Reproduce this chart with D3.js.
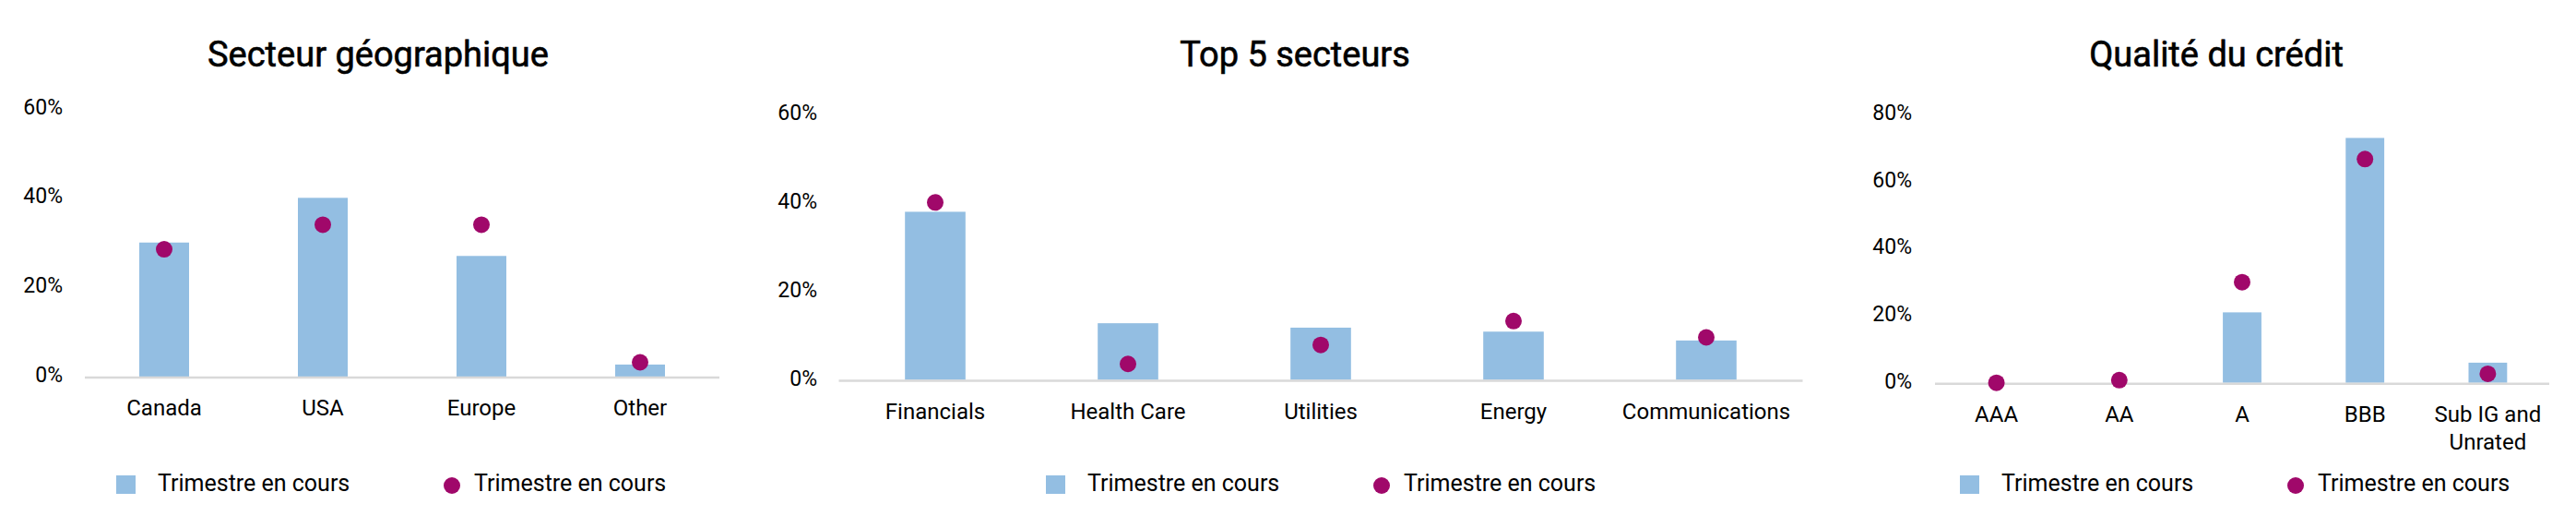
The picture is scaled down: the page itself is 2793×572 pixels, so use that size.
<html>

<head>
  <script src="https://d3js.org/d3.v7.min.js"></script>
  <style>
    body {
      margin: 0;
      background: white;
    }

    text {
      font-family: Roboto, "DejaVu Sans", sans-serif;
      fill: #000;
    }

    .cTitle {
      font-size: 38px;
      font-weight: 400;
      stroke: #000;
      stroke-width: 0.6px;
    }

    .tickLabel {
      font-size: 23px;
    }

    .catLabel {
      font-size: 24px;
    }

    .legendText {
      font-size: 25px;
    }
  </style>
</head>

<body>
  <svg id="vis" width="2793" height="572"></svg>
  <script>
    // chart 1 - geographic sector
    const geoCategories = ["Canada", "USA", "Europe", "Other"];
    const geoBars = [30, 40, 27, 2.7];
    const geoDots = [28.5, 34, 34, 3.2];
    const geoTicks = [0, 20, 40, 60];

    // chart 2 - top 5 sectors
    const sectorCategories = ["Financials", "Health Care", "Utilities", "Energy", "Communications"];
    const sectorBars = [38, 12.8, 11.8, 10.9, 8.9];
    const sectorDots = [40.1, 3.6, 7.9, 13.3, 9.6];
    const sectorTicks = [0, 20, 40, 60];

    // chart 3 - credit quality
    const creditCategories = ["AAA", "AA", "A", "BBB", "Sub IG and|Unrated"];
    const creditBars = [0, 0, 21, 73, 6];
    const creditDots = [0, 0.8, 30, 66.7, 2.7];
    const creditTicks = [0, 20, 40, 60, 80];

    const barLabel = "Trimestre en cours";
    const dotLabel = "Trimestre en cours";

    const barColor = "#93bee2";
    const dotColor = "#a0086a";
    const axisColor = "#d9d9d9";

    let svg = d3.select("svg#vis");

    function drawChart(title, categories, bars, dots, ticks, layout) {
      let g = svg.append("g");

      let xScale = d3.scaleBand(categories, [layout.x0, layout.x1])
        .paddingInner(0.686)
        .paddingOuter(0.343);

      let yScale = d3.scaleLinear([0, d3.max(ticks)], [layout.y0, layout.yTop]);

      let data = categories.map((c, i) => ({ cat: c, bar: bars[i], dot: dots[i] }));

      // bars
      g.selectAll("rect.bar").data(data)
        .join("rect")
        .attr("class", "bar")
        .attr("x", d => xScale(d.cat))
        .attr("y", d => yScale(d.bar))
        .attr("width", xScale.bandwidth())
        .attr("height", d => yScale(0) - yScale(d.bar))
        .attr("fill", barColor);

      // baseline
      g.append("line")
        .attr("x1", layout.x0)
        .attr("x2", layout.x1)
        .attr("y1", yScale(0) + 1)
        .attr("y2", yScale(0) + 1)
        .attr("stroke", axisColor)
        .attr("stroke-width", 2.5);

      // dots
      g.selectAll("circle.dot").data(data)
        .join("circle")
        .attr("class", "dot")
        .attr("cx", d => xScale(d.cat) + xScale.bandwidth() / 2)
        .attr("cy", d => yScale(d.dot))
        .attr("r", 9)
        .attr("fill", dotColor);

      // y tick labels
      g.selectAll("text.tickLabel").data(ticks)
        .join("text")
        .attr("class", "tickLabel")
        .attr("x", layout.labelX)
        .attr("y", d => yScale(d))
        .attr("text-anchor", "end")
        .attr("dominant-baseline", "middle")
        .text(d => d + "%");

      // category labels (| splits lines)
      let cats = g.selectAll("text.catLabel").data(categories)
        .join("text")
        .attr("class", "catLabel")
        .attr("text-anchor", "middle")
        .attr("transform", d => `translate(${xScale(d) + xScale.bandwidth() / 2}, ${yScale(0) + 36})`);
      cats.selectAll("tspan").data(d => d.split("|"))
        .join("tspan")
        .attr("x", 0)
        .attr("y", (d, i) => i * 30)
        .attr("dominant-baseline", "middle")
        .text(d => d);

      // title
      g.append("text")
        .attr("class", "cTitle")
        .attr("x", layout.titleX)
        .attr("y", 62)
        .attr("text-anchor", "middle")
        .attr("dominant-baseline", "middle")
        .text(title);

      // legend
      let ly = 525;
      g.append("rect")
        .attr("x", layout.legX)
        .attr("y", ly - 10)
        .attr("width", 21)
        .attr("height", 20)
        .attr("fill", barColor);
      g.append("text")
        .attr("class", "legendText")
        .attr("x", layout.legX + 45)
        .attr("y", ly)
        .attr("dominant-baseline", "middle")
        .text(barLabel);
      g.append("circle")
        .attr("cx", layout.legX + 364)
        .attr("cy", ly + 1)
        .attr("r", 9)
        .attr("fill", dotColor);
      g.append("text")
        .attr("class", "legendText")
        .attr("x", layout.legX + 388)
        .attr("y", ly)
        .attr("dominant-baseline", "middle")
        .text(dotLabel);
    }

    drawChart("Secteur géographique", geoCategories, geoBars, geoDots, geoTicks,
      { x0: 92, x1: 780, y0: 408, yTop: 117.5, labelX: 68, titleX: 410, legX: 126 });

    drawChart("Top 5 secteurs", sectorCategories, sectorBars, sectorDots, sectorTicks,
      { x0: 909.5, x1: 1954.5, y0: 411.5, yTop: 124, labelX: 886, titleX: 1404, legX: 1134 });

    drawChart("Qualité du crédit", creditCategories, creditBars, creditDots, creditTicks,
      { x0: 2098, x1: 2764, y0: 414.7, yTop: 124, labelX: 2073, titleX: 2403, legX: 2125 });
  </script>
</body>

</html>
